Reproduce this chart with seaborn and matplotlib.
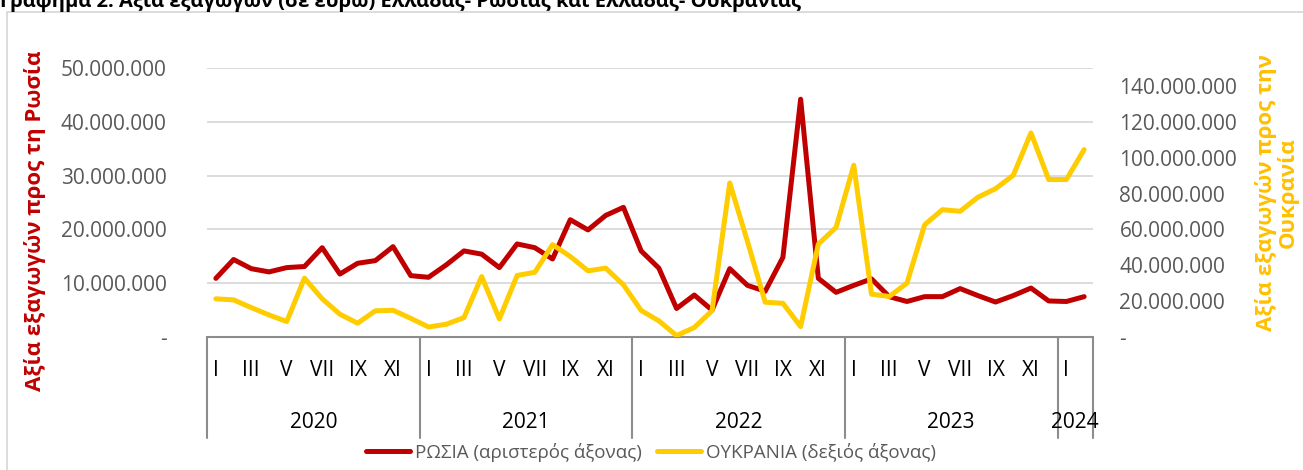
import matplotlib
matplotlib.use("Agg")
import matplotlib.pyplot as plt
import matplotlib.transforms as mtransforms
from matplotlib.patches import Rectangle
import numpy as np
import pandas as pd
import seaborn as sns

# ---- data (million euro) ----
years = [2020, 2021, 2022, 2023, 2024]
months_per_year = [12, 12, 12, 12, 2]
roman = ["I", "II", "III", "IV", "V", "VI", "VII", "VIII", "IX", "X", "XI", "XII"]

russia_m = [10.9, 14.4, 12.7, 12.1, 12.9, 13.1, 16.6, 11.7, 13.7, 14.2, 16.8, 11.4,
            11.1, 13.4, 16.0, 15.4, 12.9, 17.3, 16.6, 14.5, 21.8, 19.9, 22.6, 24.1,
            16.0, 12.8, 5.3, 7.8, 5.0, 12.7, 9.6, 8.5, 14.8, 44.2, 10.9, 8.3,
            9.6, 10.8, 7.5, 6.6, 7.5, 7.5, 9.0, 7.7, 6.5, 7.7, 9.1, 6.7,
            6.6, 7.5]
ukraine_m = [21.3, 20.7, 16.4, 12.3, 8.6, 32.8, 21.3, 12.7, 7.7, 14.6, 14.9, 10.4,
             5.6, 7.1, 10.8, 33.7, 10.1, 34.3, 36.1, 51.5, 44.9, 36.9, 38.4, 29.1,
             14.8, 9.0, 0.8, 5.3, 14.6, 85.9, 53.3, 19.4, 18.8, 5.8, 51.8, 61.1,
             95.8, 23.9, 22.6, 30.0, 62.6, 71.0, 70.1, 77.9, 82.7, 90.2, 113.8, 87.8,
             87.8, 104.5]

left_ticks = [0, 10, 20, 30, 40, 50]
right_ticks = [0, 20, 40, 60, 80, 100, 120, 140]

RED = "#C00000"
YELLOW = "#FFCC00"
YELLOW_TXT = "#FFC000"
GRAY_TXT = "#595959"

rows = []
for y, n in zip(years, months_per_year):
    for m in range(n):
        rows.append((y, m))
df = pd.DataFrame(rows, columns=["year", "month"])
df["pos"] = np.arange(len(df))
df["russia"] = np.array(russia_m) * 1e6
df["ukraine"] = np.array(ukraine_m) * 1e6

sns.set_theme(style="white")
plt.rcParams["font.family"] = ["Open Sans", "DejaVu Sans"]


def fmt(v):
    if v == 0:
        return "-"
    return f"{int(v):,}".replace(",", ".")


fig = plt.figure(figsize=(13.03, 4.70), dpi=100)
ax = fig.add_axes([207 / 1303, 1 - 337 / 470, (1093 - 207) / 1303, (337 - 68) / 470])
ax2 = ax.twinx()

sns.lineplot(data=df, x="pos", y="russia", ax=ax, color=RED, linewidth=3.6,
             label="ΡΩΣΙΑ (αριστερός άξονας)", legend=False)
sns.lineplot(data=df, x="pos", y="ukraine", ax=ax2, color=YELLOW, linewidth=3.6,
             label="ΟΥΚΡΑΝΙΑ (δεξιός άξονας)", legend=False)

n = len(df)
ax.set_xlim(-0.5, n - 0.5)
ax.set_ylim(0, 50e6)
ax2.set_ylim(0, 150e6)

ax.set_yticks([t * 1e6 for t in left_ticks])
ax.set_yticklabels([fmt(t * 1e6) for t in left_ticks], color=GRAY_TXT, fontsize=15)
ax2.set_yticks([t * 1e6 for t in right_ticks])
ax2.set_yticklabels([fmt(t * 1e6) for t in right_ticks], color=GRAY_TXT, fontsize=15)
ax.tick_params(axis="y", length=0, pad=29)
ax2.tick_params(axis="y", length=0, pad=19)
for lab in ax2.get_yticklabels():
    lab.set_horizontalalignment("left")

ax.set_xticks([])
ax2.set_xticks([])
ax.set_xlabel("")
ax.set_ylabel("")
ax2.set_ylabel("")

for a in (ax, ax2):
    for s in a.spines.values():
        s.set_visible(False)
ax.yaxis.grid(True, color="#D9D9D9", linewidth=1.3)
ax.set_axisbelow(True)
ax.set_facecolor("none")

# category axis (two levels)
trans = mtransforms.blended_transform_factory(ax.transData, ax.transAxes)
ax.plot([-0.5, n - 0.5], [0, 0], transform=trans, color="#8C8C8C", lw=1.5,
        clip_on=False)
bounds = np.concatenate([[0], np.cumsum(months_per_year)]) - 0.5
for b in bounds:
    ax.plot([b, b], [0, -0.375], transform=trans, color="#8C8C8C", lw=1.5,
            clip_on=False)
for pos, month in zip(df["pos"].tolist(), df["month"].tolist()):
    if month % 2 == 0:
        ax.text(pos, -0.123, roman[month], transform=trans, ha="center",
                va="center", fontsize=15, color="black")
for y, lo, hi in zip(years, bounds[:-1], bounds[1:]):
    ax.text((lo + hi) / 2, -0.316, str(y), transform=trans, ha="center",
            va="center", fontsize=15, color="black")

# axis titles
fig.text(35 / 1303, 1 - 221 / 470, "Αξία εξαγωγών προς τη Ρωσία", rotation=90,
         ha="center", va="center", fontsize=16, fontweight="bold", color=RED)
fig.text(1277 / 1303, 1 - 193 / 470, "Αξία εξαγωγών προς την\nΟυκρανία", rotation=90,
         ha="center", va="center", fontsize=16, fontweight="bold", color=YELLOW_TXT,
         multialignment="center", linespacing=1.0)

# chart title (cut at the top as in the source)
fig.text(0.0, 1 - 7 / 470, "Γράφημα 2: Αξία εξαγωγών (σε ευρώ) Ελλάδας- Ρωσίας και Ελλάδας- Ουκρανίας",
         ha="left", va="baseline", fontsize=14.5, fontweight="bold", color="black")

# chart border
fig.patches.append(Rectangle((7 / 1303, -0.1), 1.2, 1 - 12 / 470 + 0.1,
                             transform=fig.transFigure, fill=False,
                             edgecolor="#D9D9D9", linewidth=1.3))

handles = ax.get_lines()[:1] + ax2.get_lines()[:1]
fig.legend(handles, [h.get_label() for h in handles], loc="center",
           bbox_to_anchor=(651 / 1303, 1 - 452 / 470), ncol=2, frameon=False,
           fontsize=13.5, labelcolor=GRAY_TXT, handlelength=2.35, handletextpad=0.27,
           columnspacing=0.8)

fig.savefig("out.png", dpi=100)
